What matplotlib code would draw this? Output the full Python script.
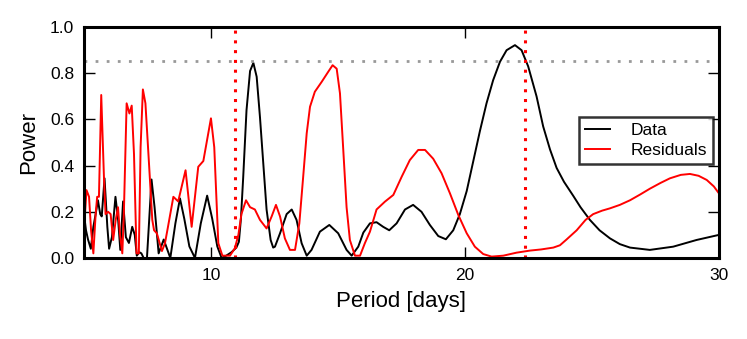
import numpy as np
import matplotlib
matplotlib.use("Agg")
import matplotlib.pyplot as plt

# periodogram of the data (black)
data_period = [5.0, 5.08, 5.16, 5.27, 5.37, 5.46, 5.55, 5.64, 5.70, 5.81, 5.92, 5.99, 6.10, 6.24,
               6.35, 6.43, 6.54, 6.65, 6.77, 6.90, 7.0, 7.08, 7.18, 7.26, 7.35, 7.48, 7.56, 7.66,
               7.78, 7.94, 8.14, 8.40, 8.60, 8.78, 8.95, 9.15, 9.37, 9.60, 9.85, 10.05, 10.25,
               10.42, 10.60, 10.81, 11.0, 11.10, 11.18, 11.27, 11.40, 11.54, 11.67, 11.80, 11.93,
               12.06, 12.19, 12.35, 12.45, 12.52, 12.72, 12.98, 13.18, 13.37, 13.57, 13.77, 13.96,
               14.29, 14.66, 15.01, 15.34, 15.54, 15.80, 16.0, 16.26, 16.52, 16.78, 17.02, 17.31,
               17.64, 17.96, 18.29, 18.62, 18.95, 19.25, 19.54, 19.80, 20.07, 20.33, 20.59, 20.85,
               21.11, 21.38, 21.64, 21.97, 22.23, 22.49, 22.82, 23.08, 23.35, 23.61, 23.90, 24.26,
               24.55, 24.92, 25.3, 25.71, 26.1, 26.5, 27.28, 28.2, 29.12, 30.0]
data_power = [0.19, 0.12, 0.08, 0.04, 0.135, 0.19, 0.25, 0.19, 0.18, 0.345, 0.135, 0.04, 0.09, 0.265,
              0.16, 0.035, 0.245, 0.09, 0.065, 0.135, 0.10, 0.01, 0.025, 0.02, 0.0, 0.0, 0.15, 0.34,
              0.22, 0.02, 0.08, 0.0, 0.15, 0.258, 0.17, 0.05, 0.0, 0.15, 0.27, 0.17, 0.05,
              0.0, 0.01, 0.025, 0.045, 0.07, 0.17, 0.35, 0.64, 0.81, 0.845, 0.785, 0.61,
              0.41, 0.21, 0.078, 0.045, 0.049, 0.107, 0.19, 0.21, 0.165, 0.064, 0.01, 0.035,
              0.114, 0.143, 0.107, 0.035, 0.01, 0.049, 0.11, 0.15, 0.155, 0.135, 0.12, 0.15,
              0.21, 0.23, 0.20, 0.143, 0.095, 0.081, 0.12, 0.19, 0.29, 0.42, 0.55, 0.67,
              0.77, 0.85, 0.90, 0.922, 0.90, 0.83, 0.70, 0.57, 0.47, 0.39, 0.33, 0.27,
              0.22, 0.165, 0.12, 0.085, 0.06, 0.045, 0.035, 0.049, 0.078, 0.10]

# periodogram of the residuals (red)
resid_period = [5.0, 5.10, 5.2, 5.28, 5.37, 5.46, 5.52, 5.59, 5.68, 5.79, 5.85, 5.95, 6.05, 6.15,
                6.25, 6.34, 6.42, 6.51, 6.57, 6.68, 6.79, 6.88, 6.97, 7.07, 7.16, 7.23, 7.32, 7.42,
                7.56, 7.69, 7.76, 7.87, 8.07, 8.19, 8.30, 8.52, 8.71, 9.0, 9.24, 9.5, 9.70, 10.0,
                10.13, 10.29, 10.45, 10.75, 10.94, 11.08, 11.2, 11.38, 11.54, 11.73, 11.93, 12.19,
                12.39, 12.56, 12.72, 12.91, 13.11, 13.31, 13.48, 13.63, 13.77, 13.90, 14.09, 14.36,
                14.62, 14.79, 14.95, 15.08, 15.21, 15.34, 15.47, 15.67, 15.87, 16.06, 16.26, 16.52,
                16.85, 17.18, 17.51, 17.83, 18.16, 18.43, 18.75, 19.08, 19.41, 19.74, 20.07, 20.39,
                20.72, 21.05, 21.51, 22.03, 22.56, 23.0, 23.48, 23.74, 24.0, 24.4, 24.75, 25.05,
                25.4, 25.71, 26.1, 26.5, 26.9, 27.28, 27.7, 28.07, 28.5, 28.86, 29.2, 29.52, 29.8, 30.0]
resid_power = [0.12, 0.294, 0.265, 0.12, 0.02, 0.19, 0.265, 0.265, 0.706, 0.34, 0.19, 0.20, 0.19, 0.078,
               0.165, 0.22, 0.10, 0.02, 0.19, 0.67, 0.626, 0.66, 0.45, 0.02, 0.02, 0.48, 0.73, 0.67,
               0.41, 0.165, 0.12, 0.107, 0.03, 0.064, 0.13, 0.265, 0.245, 0.38, 0.135, 0.395, 0.42, 0.605,
               0.48, 0.064, 0.01, 0.01, 0.042, 0.10, 0.19, 0.25, 0.22, 0.21, 0.165, 0.128,
               0.18, 0.23, 0.18, 0.085, 0.035, 0.035, 0.15, 0.35, 0.54, 0.655, 0.72, 0.763,
               0.807, 0.835, 0.82, 0.713, 0.468, 0.22, 0.078, 0.01, 0.01, 0.064, 0.114, 0.21,
               0.244, 0.273, 0.352, 0.424, 0.468, 0.468, 0.43, 0.367, 0.28, 0.186, 0.107, 0.049,
               0.017, 0.006, 0.01, 0.023, 0.032, 0.037, 0.045, 0.055, 0.08, 0.12, 0.165, 0.19,
               0.205, 0.215, 0.23, 0.25, 0.275, 0.30, 0.325, 0.345, 0.36, 0.364, 0.356, 0.338, 0.31, 0.28]

marked_periods = [10.95, 22.35]
threshold = 0.855

plt.rcParams['font.family'] = ['Liberation Sans', 'DejaVu Sans']

fig = plt.figure(figsize=(7.47, 3.39), dpi=100)
ax = fig.add_axes([0.1124, 0.239, 0.85, 0.681])

ax.plot(data_period, data_power, color='black', lw=1.4, label='Data')
ax.plot(resid_period, resid_power, color='red', lw=1.4, label='Residuals')
ax.axhline(threshold, color='#999999', ls=(0, (1, 3)), lw=2)
for p in marked_periods:
    ax.axvline(p, color='red', ls=(0, (1, 2.2)), lw=2.2)

ax.set_xlim(5, 30)
ax.set_ylim(0, 1.0)
ax.set_xticks([10, 20, 30])
ax.set_yticks(np.arange(0, 1.01, 0.2))
ax.set_yticklabels(['%.1f' % v for v in np.arange(0, 1.01, 0.2)])
ax.tick_params(direction='in', length=8, width=1, top=True, right=True, labelsize=12.5, pad=7)
for s in ax.spines.values():
    s.set_linewidth(2.2)

ax.set_xlabel('Period [days]', fontsize=16, labelpad=6)
ax.set_ylabel('Power', fontsize=16, labelpad=8)

leg = ax.legend(loc='upper right', bbox_to_anchor=(0.991, 0.61), fontsize=12.5, fancybox=False,
                handlelength=1.4, borderpad=0.35, labelspacing=0.25, handletextpad=1.2,
                borderaxespad=0)
leg.get_frame().set_edgecolor('black')
leg.get_frame().set_linewidth(1.8)

fig.savefig('out.png', dpi=100)
